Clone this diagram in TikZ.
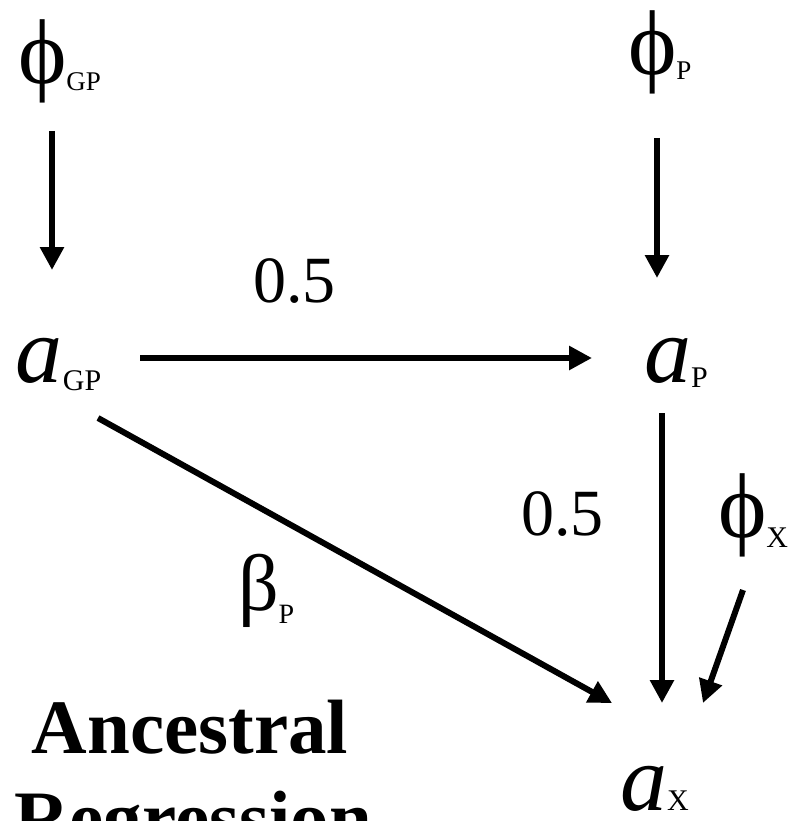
\documentclass[tikz,border=0pt]{standalone}
\usepackage{fontspec}
\setmainfont{Liberation Serif}
\usetikzlibrary{arrows.meta}
\newcommand{\mysub}[3]{\lower#3pt\hbox{\fontsize{#2}{#2}\selectfont #1}}
\begin{document}
\begin{tikzpicture}[x=1pt,y=-1pt,
  lbl/.style={inner sep=0pt, outer sep=0pt, anchor=base west},
  conn/.style={line width=6pt, -{Triangle[length=23pt,width=23pt]}},
  phifont/.style={font=\fontsize{92}{92}\selectfont},
  afont/.style={font=\fontsize{94}{94}\selectfont\itshape},
  numfont/.style={font=\fontsize{66}{66}\selectfont}]
\useasboundingbox (0,0) rectangle (790,821);
\clip (0,0) rectangle (790,821);
% labels
\node[lbl, phifont] (phiGP) at (18,84) {ϕ\mysub{GP}{27}{7}};
\node[lbl, phifont] (phiP) at (628,75) {ϕ\mysub{P}{27}{5}};
\node[lbl, afont] (aGP) at (16,382) {a\mysub{\upshape GP}{30}{8}};
\node[lbl, afont] (aP) at (644,382) {a\mysub{\upshape P}{30}{5}};
\node[lbl, afont] (aX) at (620,810) {a\mysub{\upshape X}{30}{0}};
\node[lbl, phifont] (phiX) at (718,537) {ϕ\mysub{X}{30}{10}};
\node[lbl, font=\fontsize{80}{80}\selectfont] (betaP) at (238,610) {β\mysub{P}{28}{13}};
\node[lbl, numfont] (h05) at (253,302) {0.5};
\node[lbl, numfont] (v05) at (521,535) {0.5};
\node[inner sep=0pt, anchor=base, font=\fontsize{77}{77}\selectfont\bfseries] (t1) at (190,753) {Ancestral};
\node[inner sep=0pt, anchor=base, font=\fontsize{77}{77}\selectfont\bfseries] (t2) at (193,844) {Regression};
% connectors
\draw[conn] ([xshift=34pt,yshift=-47pt]phiGP.base west) -- ([xshift=36pt,yshift=112pt]aGP.base west);
\draw[conn] ([xshift=29pt,yshift=-63pt]phiP.base west) -- ([xshift=13pt,yshift=104pt]aP.base west);
\draw[conn] ([xshift=124pt,yshift=24pt]aGP.base west) -- ([xshift=-52pt,yshift=24pt]aP.base west);
\draw[conn] ([xshift=18pt,yshift=-31pt]aP.base west) -- ([xshift=42pt,yshift=107pt]aX.base west);
\draw[conn] ([xshift=25pt,yshift=-53pt]phiX.base west) -- ([xshift=83pt,yshift=107pt]aX.base west);
\draw[conn] ([xshift=82pt,yshift=-36pt]aGP.base west) -- ([xshift=-8pt,yshift=107pt]aX.base west);
\end{tikzpicture}
\end{document}
